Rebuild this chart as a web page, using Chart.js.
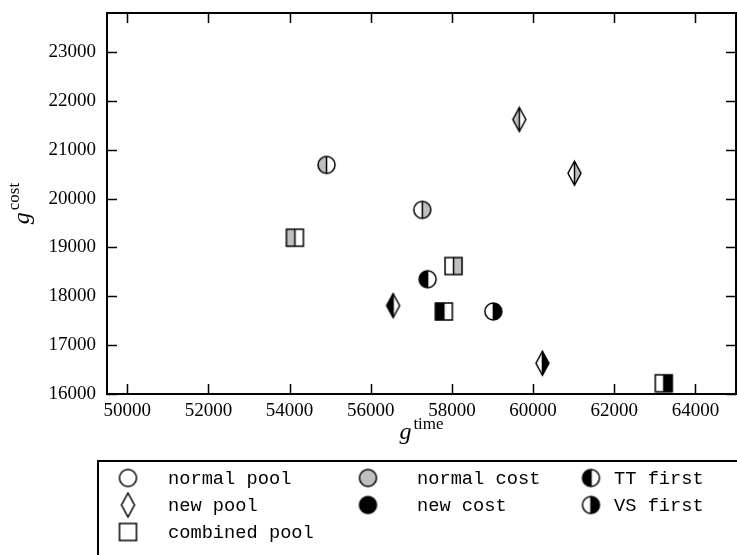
<!DOCTYPE html>
<html>
<head>
<meta charset="utf-8">
<script src="https://cdn.jsdelivr.net/npm/chart.js@4.4.1/dist/chart.umd.min.js"></script>
<style>
  html, body { margin: 0; padding: 0; background: #fff; }
  #wrap { width: 737px; height: 555px; }
</style>
</head>
<body>
<div id="wrap"><canvas id="chart" width="737" height="555"></canvas></div>
<script>
// each pool: [normal cost/TT first, normal cost/VS first, new cost/TT first, new cost/VS first]
const variants = ['normal cost, TT first', 'normal cost, VS first', 'new cost, TT first', 'new cost, VS first']
const normalPoolTime = [54910, 57270, 57400, 59020]
const normalPoolCost = [20690, 19770, 18350, 17690]
const newPoolTime = [59660, 61020, 56550, 60230]
const newPoolCost = [21620, 20520, 17810, 16630]
const combinedPoolTime = [54130, 58040, 57800, 63220]
const combinedPoolCost = [19200, 18620, 17690, 16220]

const xTicks = [50000, 52000, 54000, 56000, 58000, 60000, 62000, 64000]
const yTicks = [16000, 17000, 18000, 19000, 20000, 21000, 22000, 23000]

const GRAY = '#bfbfbf'
const costColors = [GRAY, GRAY, '#000', '#000']
const halves = ['left', 'right', 'left', 'right']

// draws a matplotlib-like half filled marker onto a small canvas
function makeMarker(shape, color, half) {
  const hw = shape === 'd' ? 6.5 : 8.5
  const hh = shape === 'd' ? 12 : 8.5
  const c = document.createElement('canvas')
  c.width = Math.ceil(hw * 2 + 4)
  c.height = Math.ceil(hh * 2 + 4)
  const ctx = c.getContext('2d')
  const cx = c.width / 2, cy = c.height / 2
  const path = () => {
    ctx.beginPath()
    if (shape === 'o') {
      ctx.arc(cx, cy, hw, 0, Math.PI * 2)
    } else if (shape === 'd') {
      ctx.moveTo(cx, cy - hh)
      ctx.lineTo(cx + hw, cy)
      ctx.lineTo(cx, cy + hh)
      ctx.lineTo(cx - hw, cy)
      ctx.closePath()
    } else {
      ctx.rect(cx - hw, cy - hh, hw * 2, hh * 2)
    }
  }
  ctx.lineWidth = 1.5
  ctx.strokeStyle = '#000'
  path()
  ctx.fillStyle = half === 'full' ? color : '#fff'
  ctx.fill()
  if (half === 'left' || half === 'right') {
    ctx.save()
    path()
    ctx.clip()
    ctx.fillStyle = color
    ctx.fillRect(half === 'left' ? 0 : cx, 0, cx, c.height)
    ctx.restore()
    ctx.beginPath()
    ctx.moveTo(cx, cy - hh)
    ctx.lineTo(cx, cy + hh)
    ctx.stroke()
  }
  path()
  ctx.stroke()
  return c
}

function poolDataset(label, shape, xs, ys) {
  return {
    label: label,
    data: xs.map((x, i) => ({ x: x, y: ys[i] })),
    pointStyle: xs.map((_, i) => makeMarker(shape, costColors[i], halves[i])),
    pointRadius: 8,
    showLine: false
  }
}

const legendItems = [
  { text: 'normal pool', marker: makeMarker('o', '#fff', 'none'), col: 0, row: 0 },
  { text: 'new pool', marker: makeMarker('d', '#fff', 'none'), col: 0, row: 1 },
  { text: 'combined pool', marker: makeMarker('s', '#fff', 'none'), col: 0, row: 2 },
  { text: 'normal cost', marker: makeMarker('o', GRAY, 'full'), col: 1, row: 0 },
  { text: 'new cost', marker: makeMarker('o', '#000', 'full'), col: 1, row: 1 },
  { text: 'TT first', marker: makeMarker('o', '#000', 'left'), col: 2, row: 0 },
  { text: 'VS first', marker: makeMarker('o', '#000', 'right'), col: 2, row: 1 }
]

// g with a roman superscript, like the LaTeX axis labels
function drawGLabel(ctx, sup, cx, baseline) {
  ctx.font = 'italic 24px "Liberation Serif"'
  const gw = ctx.measureText('g').width
  ctx.font = '17px "Liberation Serif"'
  const sw = ctx.measureText(sup).width
  const x0 = cx - (gw + sw + 2) / 2
  ctx.textAlign = 'left'
  ctx.textBaseline = 'alphabetic'
  ctx.fillStyle = '#000'
  ctx.font = 'italic 24px "Liberation Serif"'
  ctx.fillText('g', x0, baseline)
  ctx.font = '17px "Liberation Serif"'
  ctx.fillText(sup, x0 + gw + 2, baseline - 10)
}

const framePlugin = {
  id: 'frame',
  afterDraw(chart) {
    const ctx = chart.ctx
    const a = chart.chartArea
    const xs = chart.scales.x, ys = chart.scales.y
    ctx.save()
    ctx.strokeStyle = '#000'
    ctx.lineWidth = 1.5
    ctx.beginPath()
    xTicks.forEach(v => {
      const px = Math.round(xs.getPixelForValue(v)) + 0.5
      ctx.moveTo(px, a.bottom); ctx.lineTo(px, a.bottom - 10)
      ctx.moveTo(px, a.top); ctx.lineTo(px, a.top + 10)
    })
    yTicks.forEach(v => {
      const py = Math.round(ys.getPixelForValue(v)) + 0.5
      ctx.moveTo(a.left, py); ctx.lineTo(a.left + 10, py)
      ctx.moveTo(a.right, py); ctx.lineTo(a.right - 10, py)
    })
    ctx.stroke()
    ctx.lineWidth = 2
    ctx.strokeRect(a.left, a.top, a.right - a.left, a.bottom - a.top)

    // axis titles
    drawGLabel(ctx, 'time', (a.left + a.right) / 2, 439)
    ctx.save()
    ctx.translate(29, (a.top + a.bottom) / 2)
    ctx.rotate(-Math.PI / 2)
    drawGLabel(ctx, 'cost', 0, 0)
    ctx.restore()

    // legend box
    ctx.lineWidth = 2
    ctx.strokeRect(98, 461, 700, 120)
    const markerX = [128, 368, 591]
    const textX = [168, 417, 614]
    const rowY = [478, 505, 532]
    ctx.font = '18.7px "Liberation Mono"'
    ctx.textAlign = 'left'
    ctx.textBaseline = 'middle'
    ctx.fillStyle = '#000'
    legendItems.forEach(it => {
      const m = it.marker
      ctx.drawImage(m, markerX[it.col] - m.width / 2, rowY[it.row] - m.height / 2)
      ctx.fillText(it.text, textX[it.col], rowY[it.row] + 1)
    })
    ctx.restore()
  }
}

const tickFont = { family: '"Liberation Serif"', size: 19 }

new Chart(document.getElementById('chart'), {
  type: 'scatter',
  data: {
    datasets: [
      poolDataset('normal pool', 'o', normalPoolTime, normalPoolCost),
      poolDataset('new pool', 'd', newPoolTime, newPoolCost),
      poolDataset('combined pool', 's', combinedPoolTime, combinedPoolCost)
    ]
  },
  options: {
    responsive: false,
    animation: false,
    events: [],
    layout: { autoPadding: false, padding: { top: 13, right: 1, left: 0, bottom: 0 } },
    plugins: { legend: { display: false }, tooltip: { enabled: false } },
    scales: {
      x: {
        type: 'linear',
        min: 49500,
        max: 65000,
        grid: { display: false, drawTicks: false },
        border: { display: false },
        afterBuildTicks: s => { s.ticks = xTicks.map(v => ({ value: v })) },
        afterFit: s => { s.height = 161; s.paddingLeft = 0; s.paddingRight = 0 },
        ticks: {
          autoSkip: false, maxRotation: 0, padding: 6,
          color: '#000', font: tickFont,
          callback: v => String(v)
        }
      },
      y: {
        type: 'linear',
        min: 16000,
        max: 23800,
        grid: { display: false, drawTicks: false },
        border: { display: false },
        afterBuildTicks: s => { s.ticks = yTicks.map(v => ({ value: v })) },
        afterFit: s => { s.width = 107; s.paddingTop = 0; s.paddingBottom = 0 },
        ticks: {
          autoSkip: false, padding: 11,
          color: '#000', font: tickFont,
          callback: v => String(v)
        }
      }
    }
  },
  plugins: [framePlugin]
})
</script>
</body>
</html>
